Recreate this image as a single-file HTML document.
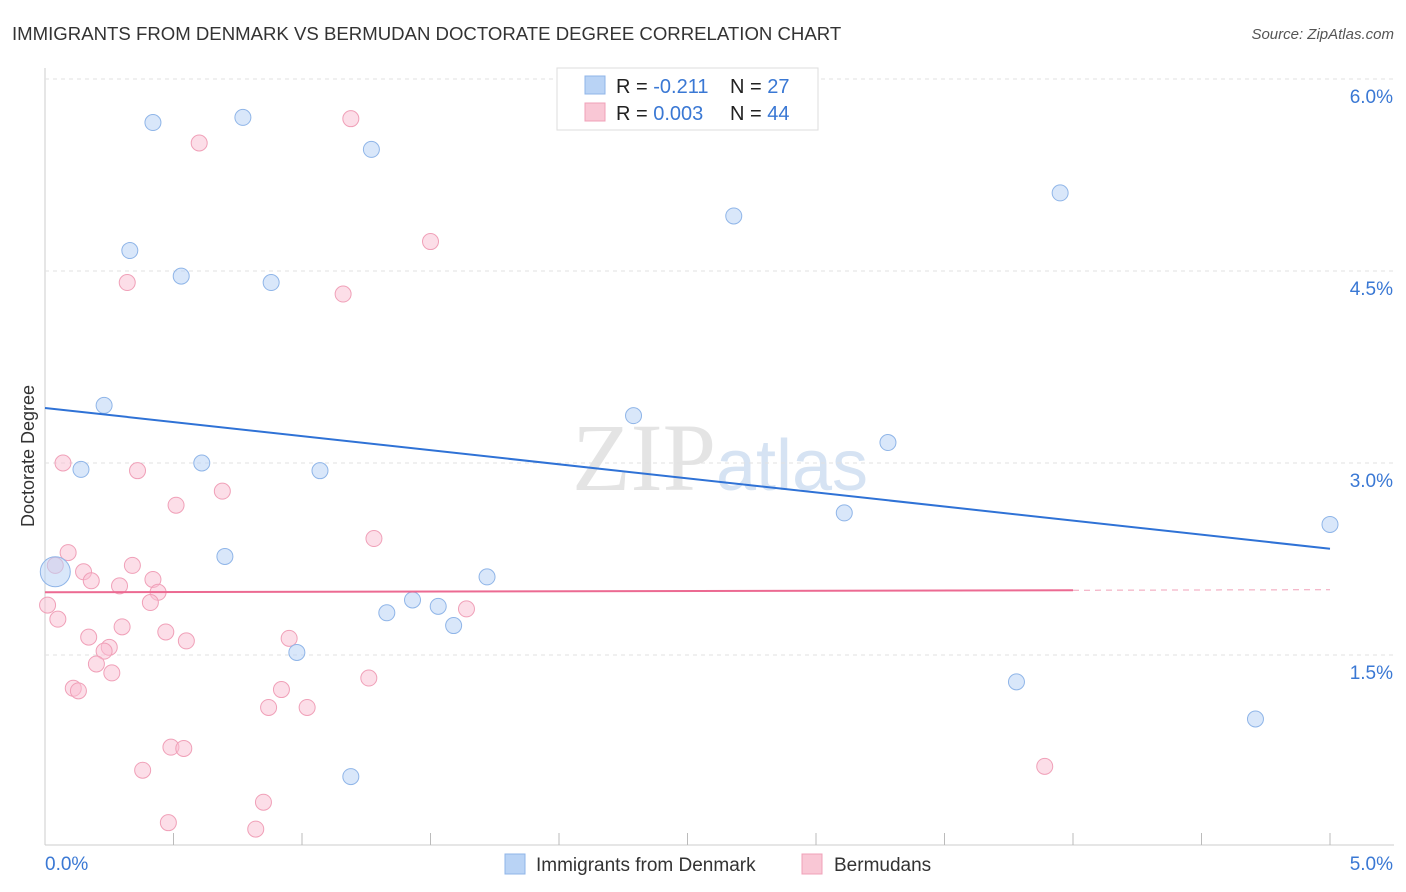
<!DOCTYPE html>
<html><head><meta charset="utf-8">
<style>
body{margin:0;background:#fff;font-family:"Liberation Sans",sans-serif;}
#wrap{position:relative;width:1406px;height:892px;overflow:hidden;}
</style></head>
<body>
<div id="wrap">
<svg id="svg" width="1406" height="892" xmlns="http://www.w3.org/2000/svg">
<text x="12" y="40" font-size="18.6" fill="#333">IMMIGRANTS FROM DENMARK VS BERMUDAN DOCTORATE DEGREE CORRELATION CHART</text>
<text x="1394" y="39" font-size="15" fill="#555" font-style="italic" text-anchor="end">Source: ZipAtlas.com</text>
<text x="0" y="0" transform="translate(34,456) rotate(-90)" font-size="18" fill="#333" text-anchor="middle">Doctorate Degree</text>
<text x="720" y="490" font-size="96" fill="#e4e4e4" text-anchor="middle" font-family="Liberation Serif,serif">ZIP<tspan fill="#d6e3f3" font-family="Liberation Sans,sans-serif" font-size="72">atlas</tspan></text>
<g id="grid"></g><g id="pts"></g><g id="lines"></g>
<g>
<rect x="557" y="68" width="261" height="62" fill="#fff" stroke="#ddd"/>
<rect x="585" y="76" width="20" height="18" fill="#b9d3f5" stroke="#8fb5e8"/>
<rect x="585" y="103" width="20" height="18" fill="#f9c7d5" stroke="#f0a0b8"/>
<text x="616" y="93" font-size="20" fill="#222">R = <tspan fill="#3a78d4"> -0.211</tspan><tspan x="730">N = </tspan><tspan fill="#3a78d4"> 27</tspan></text>
<text x="616" y="120" font-size="20" fill="#222">R = <tspan fill="#3a78d4">0.003</tspan><tspan x="730">N = </tspan><tspan fill="#3a78d4">44</tspan></text>
</g>
<g>
<rect x="505" y="854" width="20" height="20" fill="#b9d3f5" stroke="#8fb5e8"/>
<text x="536" y="871" font-size="19" fill="#333">Immigrants from Denmark</text>
<rect x="802" y="854" width="20" height="20" fill="#f9c7d5" stroke="#f0a0b8"/>
<text x="834" y="871" font-size="19" fill="#333">Bermudans</text>
</g>
</svg>
</div>
<script>
const yTicks=[1.5,3.0,4.5,6.0];
const xTickLabels=["0.0%","5.0%"];
const blueXs=[0.42,0.77,1.27,0.33,0.53,0.88,0.23,0.14,0.61,1.07,0.70,0.04,1.72,1.43,1.33,1.53,1.59,0.98,1.19,2.29,2.68,3.28,3.11,3.95,3.78,4.71,5.0];
const blueYs=[5.66,5.70,5.45,4.66,4.46,4.41,3.45,2.95,3.00,2.94,2.27,2.15,2.11,1.93,1.83,1.88,1.73,1.52,0.55,3.37,4.93,3.16,2.61,5.11,1.29,1.00,2.52];
const pinkXs=[1.19,0.60,1.50,0.32,1.16,0.07,0.36,0.69,0.51,1.28,0.09,0.04,0.15,0.34,0.18,0.29,0.42,0.44,0.41,0.01,0.05,0.30,0.47,0.17,0.55,0.95,0.25,0.23,0.20,0.26,1.64,0.11,0.13,0.92,1.26,0.87,1.02,0.49,0.54,0.38,0.85,0.48,0.82,3.89];
const pinkYs=[5.69,5.50,4.73,4.41,4.32,3.00,2.94,2.78,2.67,2.41,2.30,2.20,2.15,2.20,2.08,2.04,2.09,1.99,1.91,1.89,1.78,1.72,1.68,1.64,1.61,1.63,1.56,1.53,1.43,1.36,1.86,1.24,1.22,1.23,1.32,1.09,1.09,0.78,0.77,0.60,0.35,0.19,0.14,0.63];
const blueTrend=[3.43,2.33];
const pinkTrend=[1.99,2.01];
const NS="http://www.w3.org/2000/svg";
const X=v=>45+v*257, Y=v=>847-v*128;
function mk(tag,attrs,parent){const e=document.createElementNS(NS,tag);for(const k in attrs)e.setAttribute(k,attrs[k]);parent.appendChild(e);return e;}
const grid=document.getElementById('grid'),pts=document.getElementById('pts'),lines=document.getElementById('lines');
mk('line',{x1:45,y1:68,x2:45,y2:845,stroke:'#ccc'},grid);
mk('line',{x1:45,y1:845,x2:1394,y2:845,stroke:'#ccc'},grid);
for(let i=0;i<=10;i++){const t=mk('line',{x1:X(i*0.5),y1:845,x2:X(i*0.5),y2:i==0?845:833,stroke:'#bbb'},grid);

}
yTicks.forEach(v=>{const l=mk('line',{x1:45,y1:Y(v),x2:1394,y2:Y(v),stroke:'#e2e2e2','stroke-dasharray':'4,4'},grid);


const t=mk('text',{x:1393,y:Y(v)+24,'font-size':19,fill:'#3a78d4','text-anchor':'end'},grid);t.textContent=v.toFixed(1)+'%';

});
xTickLabels.forEach((s,i)=>{const t=mk('text',{x:i?1393:45,y:870,'font-size':19,fill:'#3a78d4','text-anchor':i?'end':'start'},grid);t.textContent=s;

});
pinkXs.forEach((x,i)=>{const c=mk('circle',{cx:X(x),cy:Y(pinkYs[i]),r:8,fill:'rgba(249,190,210,0.5)',stroke:'#f0a0b8','stroke-width':1},pts);

});
blueXs.forEach((x,i)=>{const c=mk('circle',{cx:X(x),cy:Y(blueYs[i]),r:i==11?15:8,fill:'rgba(185,211,245,0.55)',stroke:'#8fb5e8','stroke-width':1},pts);

});
const bl=mk('line',{x1:X(0),y1:Y(blueTrend[0]),x2:X(5),y2:Y(blueTrend[1]),stroke:'#2f72d6','stroke-width':2},lines);


const pm=pinkTrend[0]+(pinkTrend[1]-pinkTrend[0])*0.8;
const pl=mk('line',{x1:X(0),y1:Y(pinkTrend[0]),x2:X(4),y2:Y(pm),stroke:'#ec6a92','stroke-width':2},lines);


const pd=mk('line',{x1:X(4),y1:Y(pm),x2:X(5),y2:Y(pinkTrend[1]),stroke:'#f0a0b8','stroke-width':1,'stroke-dasharray':'6,5'},lines);


</script>
</body></html>
